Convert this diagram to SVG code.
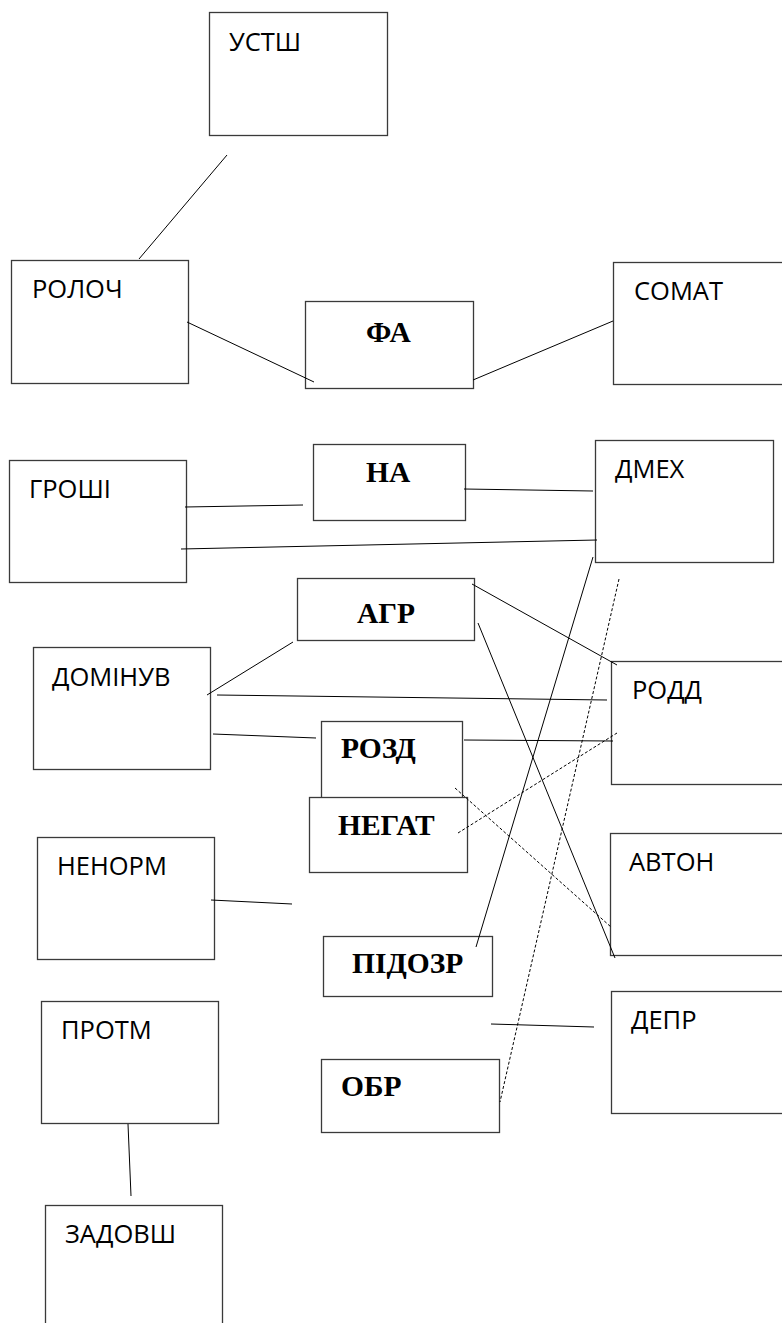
<svg xmlns="http://www.w3.org/2000/svg" width="782" height="1323" viewBox="0 0 782 1323">
<style>
.box{fill:#fff;stroke:#3a3a3a;stroke-width:1.3}
.s{font-family:"Open Sans","Liberation Sans",sans-serif;font-size:25.5px;fill:#000}
.b{font-family:"Liberation Serif","Times New Roman",serif;font-size:29.5px;font-weight:bold;fill:#000}
.ln{stroke:#000;stroke-width:1;fill:none}
.dt{stroke:#000;stroke-width:1;fill:none;stroke-dasharray:3,2}
</style>
<rect x="0" y="0" width="782" height="1323" fill="#fff"/>
<g id="n-ustsh"><rect class="box" x="209.5" y="12.5" width="178" height="123"/><text class="s" x="229" y="51">УСТШ</text></g>
<g id="n-roloch"><rect class="box" x="11.5" y="260.5" width="177" height="123"/><text class="s" x="32" y="298">РОЛОЧ</text></g>
<g id="n-fa"><rect class="box" x="305.5" y="301.5" width="168" height="87"/><text class="b" x="366" y="342">ФА</text></g>
<g id="n-somat"><rect class="box" x="613.5" y="262.5" width="180" height="122"/><text class="s" x="634" y="300">СОМАТ</text></g>
<g id="n-groshi"><rect class="box" x="9.5" y="460.5" width="177" height="122"/><text class="s" x="29" y="498">ГРОШІ</text></g>
<g id="n-na"><rect class="box" x="313.5" y="444.5" width="152" height="76"/><text class="b" x="366" y="482">НА</text></g>
<g id="n-dmeh"><rect class="box" x="595.5" y="440.5" width="178" height="122"/><text class="s" x="615" y="478">ДМЕХ</text></g>
<g id="n-agr"><rect class="box" x="297.5" y="578.5" width="177" height="62"/><text class="b" x="357" y="623">АГР</text></g>
<g id="n-dominuv"><rect class="box" x="33.5" y="647.5" width="177" height="122"/><text class="s" x="52" y="686">ДОМІНУВ</text></g>
<g id="n-rodd"><rect class="box" x="611.5" y="661.5" width="182" height="123"/><text class="s" x="632" y="699">РОДД</text></g>
<g id="n-rozd"><rect class="box" x="321.5" y="721.5" width="141" height="90"/><text class="b" x="341" y="758">РОЗД</text></g>
<g id="n-negat"><rect class="box" x="309.5" y="797.5" width="158" height="75"/><text class="b" x="338" y="835">НЕГАТ</text></g>
<g id="n-nenorm"><rect class="box" x="37.5" y="837.5" width="177" height="122"/><text class="s" x="57" y="875">НЕНОРМ</text></g>
<g id="n-avton"><rect class="box" x="610.5" y="833.5" width="183" height="122"/><text class="s" x="629" y="871">АВТОН</text></g>
<g id="n-pidozr"><rect class="box" x="323.5" y="936.5" width="169" height="60"/><text class="b" x="352" y="973">ПІДОЗР</text></g>
<g id="n-depr"><rect class="box" x="611.5" y="991.5" width="182" height="122"/><text class="s" x="631" y="1029">ДЕПР</text></g>
<g id="n-protm"><rect class="box" x="41.5" y="1001.5" width="177" height="122"/><text class="s" x="61" y="1039">ПРОТМ</text></g>
<g id="n-obr"><rect class="box" x="321.5" y="1059.5" width="178" height="73"/><text class="b" x="341" y="1096">ОБР</text></g>
<g id="n-zadovsh"><rect class="box" x="45.5" y="1205.5" width="177" height="130"/><text class="s" x="65" y="1243">ЗАДОВШ</text></g>
<g id="connectors">
<line class="ln" x1="227" y1="155" x2="139" y2="259"/>
<line class="ln" x1="187" y1="322" x2="314" y2="382"/>
<line class="ln" x1="473" y1="380" x2="613" y2="321"/>
<line class="ln" x1="185" y1="507" x2="303" y2="505"/>
<line class="ln" x1="464" y1="489" x2="593" y2="491"/>
<line class="ln" x1="181" y1="549" x2="597" y2="540"/>
<line class="ln" x1="293" y1="642" x2="207" y2="695"/>
<line class="ln" x1="217" y1="695" x2="607" y2="700"/>
<line class="ln" x1="213" y1="734" x2="316" y2="738"/>
<line class="ln" x1="464" y1="740" x2="613" y2="741"/>
<line class="ln" x1="472" y1="584" x2="617" y2="665"/>
<line class="ln" x1="478" y1="623" x2="615" y2="958"/>
<line class="ln" x1="593" y1="557" x2="476" y2="947"/>
<line class="ln" x1="211" y1="900" x2="292" y2="904"/>
<line class="ln" x1="491" y1="1024" x2="594" y2="1027"/>
<line class="ln" x1="128" y1="1124" x2="131" y2="1196"/>
<line class="dt" x1="458" y1="833" x2="617" y2="733"/>
<line class="dt" x1="455" y1="788" x2="611" y2="927"/>
<line class="dt" x1="619" y1="579" x2="500" y2="1102"/>
</g>
</svg>
